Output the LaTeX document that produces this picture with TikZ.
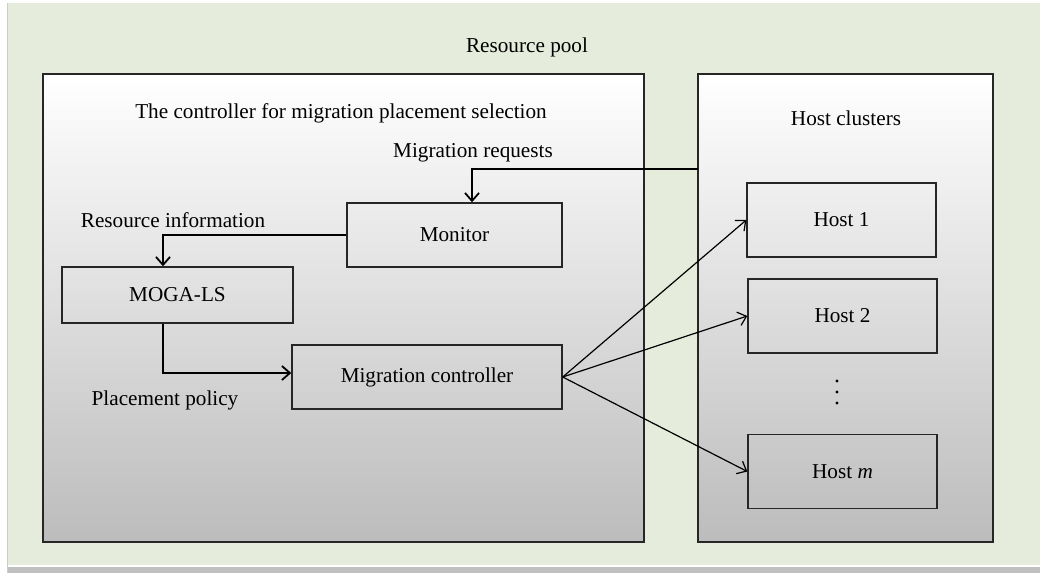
\documentclass[tikz,border=0pt]{standalone}
\usepackage{fontspec}
\setmainfont{Liberation Serif}
\usetikzlibrary{arrows.meta, positioning, calc}

\definecolor{pagegreen}{RGB}{230,236,219}
\definecolor{bargray}{RGB}{192,192,192}
\definecolor{shadegray}{RGB}{188,188,188}

\begin{document}
\begin{tikzpicture}[
    x=0.5pt, y=-0.5pt,
    font=\fontsize{10.6}{12.5}\selectfont, >={Straight Barb[length=4pt,width=7pt]},
    outer/.style={rectangle, draw=black!85, line width=0.7pt, top color=white, bottom color=shadegray, inner sep=0pt},
    unit/.style ={rectangle, draw=black!85, line width=0.7pt, inner sep=0pt},
    hostbox/.style={unit, minimum width=94.5pt, minimum height=37pt},
    label/.style={anchor=base, inner sep=0pt},
    link/.style ={->, line width=0.9pt},
    fan/.style  ={->, line width=0.6pt},
]
\useasboundingbox (0,0) rectangle (1040,573);
% page background
\fill[white] (0,0) rectangle (1040,573);
\fill[pagegreen] (8,3) rectangle (1040,565);
\fill[bargray] (8,567) rectangle (1040,573);
\draw[black!20, line width=0.5pt] (7.5,3) -- (7.5,573);

\node[label] (pool) at (527,53) {Resource pool};

% the two big frames
\node[outer, minimum width=300.5pt, minimum height=234pt] (ctrl)  at (343.5,308) {};
\node[outer, minimum width=147.5pt, minimum height=234pt] (hosts) at (845.5,308) {};
\node[label] (ctrltitle)  at (341,118) {The controller for migration placement selection};
\node[label] (hoststitle) at (846,125) {Host clusters};

% controller parts
\node[unit, minimum width=107.5pt, minimum height=32pt] (monitor) at (454.5,235) {Monitor};
\node[unit, minimum width=115.5pt, minimum height=28pt] (moga)    at (177.5,295) {MOGA-LS};
\node[unit, minimum width=135pt,   minimum height=32pt] (migctl)  at (427,377)   {Migration controller};

% hosts
\node[hostbox] (host1) at (841.5,220) {Host 1};
\node[hostbox] (host2) at (842.5,316) {Host 2};
\node[hostbox] (hostm) at (842.5,471.5) {Host \textit{m}};
\foreach \y in {381,392,403}
    \fill (837,\y) circle (1.6);

% labels on the links
\node[label] (reqlbl)    at (473,157) {Migration requests};
\node[label] (infolbl)   at (173,227) {Resource information};
\node[label] (policylbl) at (165,405) {Placement policy};

\coordinate (req) at (698,169);
\draw[link] (req) -| ($(monitor.north)+(17.5,0)$);
\draw[link] (monitor.west) -| ($(moga.north)+(-14.5,0)$);
\draw[link] ($(moga.south)+(-14.5,0)$) |- ($(migctl.west)+(0,-4)$);
\draw[fan] (migctl.east) -- (host1.west);
\draw[fan] (migctl.east) -- (host2.west);
\draw[fan] (migctl.east) -- (hostm.west);
\end{tikzpicture}
\end{document}
